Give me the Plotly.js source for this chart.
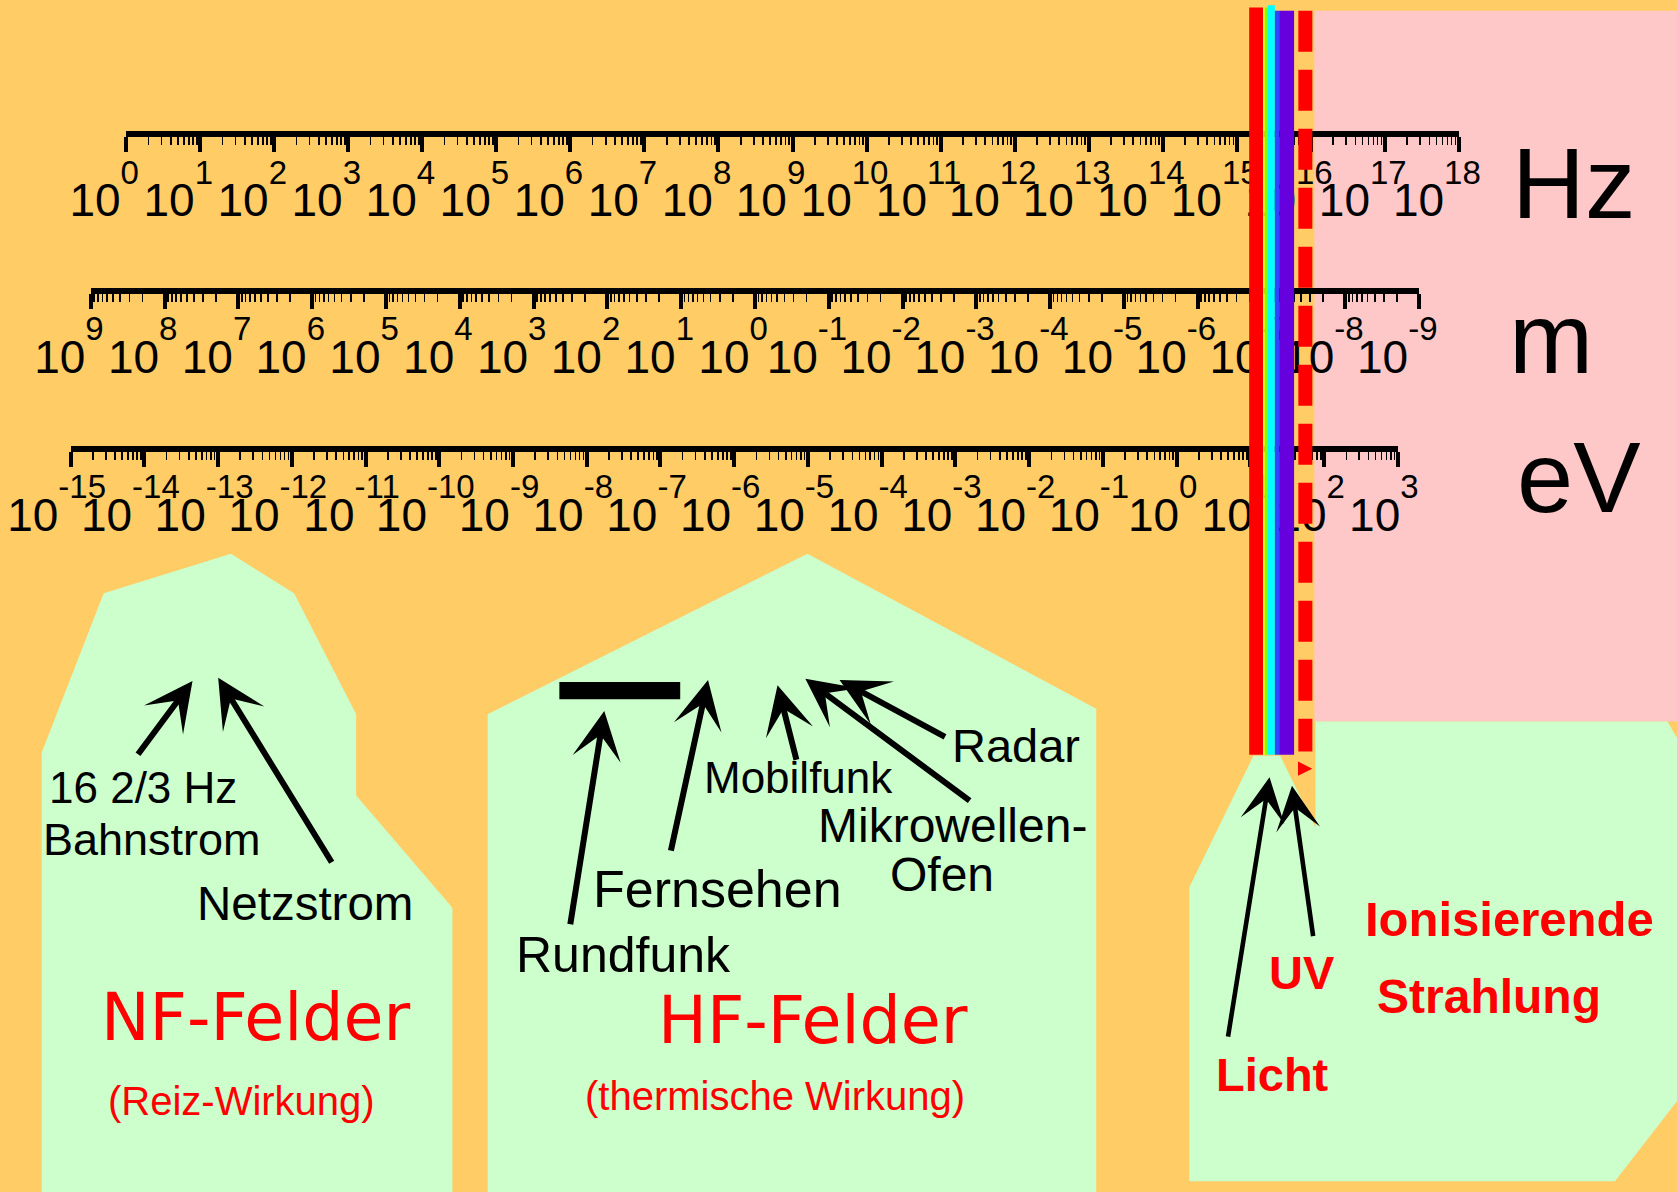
<!DOCTYPE html>
<html>
<head>
<meta charset="utf-8">
<script src="https://cdn.plot.ly/plotly-3.0.1.min.js"></script>
<style>
html,body{margin:0;padding:0;background:#FFCC66;overflow:hidden;}
#chart{width:1677px;height:1192px;}
</style>
</head>
<body>
<div id="chart"></div>
<script>
// ---------------- data ----------------
// exponents of the three rulers (frequency, wavelength, photon energy)
const hzExponents = [0,1,2,3,4,5,6,7,8,9,10,11,12,13,14,15,16,17,18];
const mExponents  = [9,8,7,6,5,4,3,2,1,0,-1,-2,-3,-4,-5,-6,-7,-8,-9];
const evExponents = [-15,-14,-13,-12,-11,-10,-9,-8,-7,-6,-5,-4,-3,-2,-1,0,1,2,3];
const baseLabel   = '10';
const unitLabels  = ['Hz','m','eV'];

const blackLabels = ['16 2/3 Hz','Bahnstrom','Netzstrom','Rundfunk','Fernsehen','Mobilfunk','Radar','Mikrowellen-','Ofen'];
const redLabels   = ['NF-Felder','(Reiz-Wirkung)','HF-Felder','(thermische Wirkung)'];
const ionLabels   = ['UV','Licht','Ionisierende','Strahlung'];

// ---------------- helpers ----------------
const W = 1677, H = 1192;
const RW = 1568, RH = 1115;           // drawing units of the sheet
const FONT = 'Arial, "Liberation Sans", sans-serif';

function tickVals(exps){ return exps.map(e => Math.pow(10, e)); }
// "10" with a high, fairly large exponent (two superscript levels)
function tickText(exps){
  return exps.map(e => baseLabel + '<sup><sup><span style="font-size:33px">' + e + '</span></sup></sup>');
}

function ruler(exps, x0, x1, yLine, shift){
  const reversed = exps[0] > exps[exps.length - 1];
  return {
    type: 'log',
    domain: [x0 / RW, x1 / RW],
    range: [exps[0], exps[exps.length - 1]],
    anchor: 'free',
    position: 1 - yLine / RH,
    side: 'bottom',
    showline: true, linecolor: '#000', linewidth: 6,
    ticks: 'outside', ticklen: 15, tickwidth: 4, tickcolor: '#000',
    tickmode: 'array', tickvals: tickVals(exps), ticktext: tickText(exps),
    tickangle: 0,
    tickfont: {family: FONT, size: 46, color: '#000'},
    ticklabelshift: reversed ? -shift : shift,   // shift runs along the axis direction
    ticklabelstandoff: 9,
    ticklabeloverflow: 'allow',
    minor: {ticks: 'outside', ticklen: 8, tickwidth: 1.6, tickcolor: '#000', dtick: 'D1', showgrid: false},
    showgrid: false, zeroline: false, fixedrange: true
  };
}

function anchorTrace(exps, xa){
  return {x: tickVals(exps), xaxis: xa, yaxis: 'y', mode: 'none', type: 'scatter', hoverinfo: 'skip', showlegend: false};
}
const traces = [
  anchorTrace(hzExponents, 'x2'), anchorTrace(mExponents, 'x3'), anchorTrace(evExponents, 'x4'),
  {x: [0, RW], y: [0, RH], xaxis: 'x', yaxis: 'y', mode: 'none', type: 'scatter', hoverinfo: 'skip', showlegend: false}
];

// ---------------- shapes ----------------
const shapes = [
  {type: 'rect', xref: 'x', yref: 'y', x0: 1229, x1: 1568, y0: 10, y1: 675, fillcolor: '#FFC8C8', line: {width: 0}, layer: 'below'},
  {type: 'path', xref: 'x', yref: 'y', path: 'M39,704 L97,555 L216,518 L275,555 L333,668 L333,744 L423,849 L423,1115 L39,1115 Z',
   fillcolor: '#CCFFCC', line: {width: 0}, layer: 'below'},
  {type: 'path', xref: 'x', yref: 'y', path: 'M456,668 L755,518 L1025,663 L1025,1115 L456,1115 Z',
   fillcolor: '#CCFFCC', line: {width: 0}, layer: 'below'},
  {type: 'path', xref: 'x', yref: 'y', path: 'M1230,675 L1559,675 L1568,690 L1568,1030 L1510,1105 L1112,1105 L1112,830 L1172,707 L1197,707 L1230,774 Z',
   fillcolor: '#CCFFCC', line: {width: 0}, layer: 'below'},
  {type: 'rect', xref: 'x', yref: 'y', x0: 523, x1: 636, y0: 638, y1: 654, fillcolor: '#000', line: {width: 0}, layer: 'above'},
  {type: 'rect', xref: 'x', yref: 'y', x0: 1168, x1: 1181, y0: 7, y1: 706, fillcolor: '#FF0000', line: {width: 0}, layer: 'above'},
  {type: 'rect', xref: 'x', yref: 'y', x0: 1181, x1: 1182.6, y0: 7, y1: 706, fillcolor: '#FFFF00', line: {width: 0}, layer: 'above'},
  {type: 'rect', xref: 'x', yref: 'y', x0: 1182.6, x1: 1185.6, y0: 7, y1: 706, fillcolor: '#80FF00', line: {width: 0}, layer: 'above'},
  {type: 'rect', xref: 'x', yref: 'y', x0: 1185.6, x1: 1192, y0: 5, y1: 706, fillcolor: '#00FFFF', line: {width: 0}, layer: 'above'},
  {type: 'rect', xref: 'x', yref: 'y', x0: 1192, x1: 1196, y0: 10, y1: 706, fillcolor: '#3344FF', line: {width: 0}, layer: 'above'},
  {type: 'rect', xref: 'x', yref: 'y', x0: 1196, x1: 1210, y0: 10, y1: 706, fillcolor: '#6600DD', line: {width: 0}, layer: 'above'},
  {type: 'line', xref: 'x', yref: 'y', x0: 1220.5, x1: 1220.5, y0: 10, y1: 703,
   line: {color: '#FF0000', width: 14, dash: '41px,18px'}, layer: 'above'}
];

// ---------------- annotations ----------------
const ann = [];
function txt(t, x, y, size, color, family, weight){
  ann.push({text: t, x: x, y: y, xref: 'x', yref: 'y', showarrow: false, xanchor: 'center', yanchor: 'middle',
            font: {family: family || FONT, size: size, color: color || '#000', weight: weight || 'normal'}});
}
function arrow(x0, y0, x1, y1, w, s, color, head){
  ann.push({text: '', x: x1, y: y1, ax: x0, ay: y0, xref: 'x', yref: 'y', axref: 'x', ayref: 'y',
            showarrow: true, arrowhead: head || 3, arrowsize: s, arrowwidth: w, arrowcolor: color || '#000',
            standoff: 0, startstandoff: 0});
}

txt(unitLabels[0], 1471, 171, 101);
txt(unitLabels[1], 1450, 316, 101);
txt(unitLabels[2], 1476, 446, 101);

const bPos = [[134,737,44],[142,785,45],[285,845,47.5],[583,893,50],[671,832,52],[747,727,44],[950,697,47],[891,772,48],[881,818,48]];
blackLabels.forEach((t, i) => txt(t, bPos[i][0], bPos[i][1], bPos[i][2]));

txt(redLabels[0], 239, 952, 65, '#FF0000', '"DejaVu Sans", Verdana, sans-serif');
txt(redLabels[1], 226, 1030, 40, '#FF0000');
txt(redLabels[2], 760, 955, 65, '#FF0000', '"DejaVu Sans", Verdana, sans-serif');
txt(redLabels[3], 725, 1025, 40, '#FF0000');

const iPos = [[1217,910,47],[1190,1005,47],[1411,860,49],[1392,932,48]];
ionLabels.forEach((t, i) => txt(t, iPos[i][0], iPos[i][1], iPos[i][2], '#FF0000', FONT, 'bold'));

arrow(128, 707, 180, 637, 6, 1.35);
arrow(311, 808, 204, 634, 6, 1.35);
arrow(533, 866, 565, 665, 6, 1.35);
arrow(627, 797, 662, 636, 6, 1.35);
arrow(745, 712, 727, 641, 6, 1.35);
arrow(908, 750, 753, 635, 6, 1.35);
arrow(885, 690, 785, 636, 6, 1.35);
arrow(1148, 971, 1187, 727, 4.6, 1.6);
arrow(1228, 877, 1208, 735, 4.6, 1.6);
arrow(1214, 719, 1227, 719, 2.2, 1.3, '#FF0000', 2);

// ---------------- layout ----------------
const layout = {
  width: W, height: H,
  margin: {l: 0, r: 0, t: 0, b: 0, pad: 0},
  paper_bgcolor: '#FFCC66',
  plot_bgcolor: 'rgba(0,0,0,0)',
  showlegend: false,
  hovermode: false,
  dragmode: false,
  xaxis: {range: [0, RW], domain: [0, 1], visible: false, fixedrange: true},
  yaxis: {range: [RH, 0], domain: [0, 1], visible: false, fixedrange: true},
  xaxis2: ruler(hzExponents, 118, 1364, 125.5, -22),
  xaxis3: ruler(mExponents, 85, 1327, 272, -22),
  xaxis4: ruler(evExponents, 66, 1307, 420, -14),
  shapes: shapes,
  annotations: ann
};

Plotly.newPlot('chart', traces, layout, {staticPlot: true, displayModeBar: false});
</script>
</body>
</html>
